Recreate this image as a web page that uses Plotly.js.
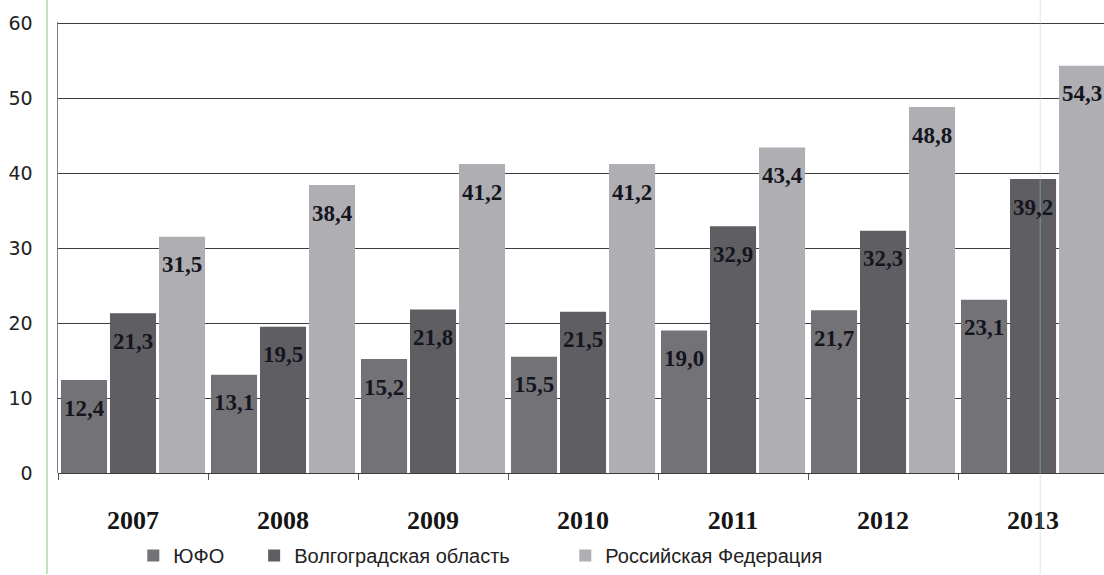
<!DOCTYPE html>
<html>
<head>
<meta charset="utf-8">
<script src="https://cdn.plot.ly/plotly-3.0.1.min.js"></script>
<style>html,body{margin:0;padding:0;background:#fff;}#chart{width:1104px;height:575px;}</style>
</head>
<body>
<div id="chart"></div>
<script>
const years = ['2007','2008','2009','2010','2011','2012','2013'];
const seriesNames = ['ЮФО','Волгоградская область','Российская Федерация'];
const yufo = [12.4, 13.1, 15.2, 15.5, 19.0, 21.7, 23.1];
const volgograd = [21.3, 19.5, 21.8, 21.5, 32.9, 32.3, 39.2];
const russia = [31.5, 38.4, 41.2, 41.2, 43.4, 48.8, 54.3];
const yTicks = [0, 10, 20, 30, 40, 50, 60];

const colors = ['#737377', '#5f5f63', '#afafb3'];
const allSeries = [yufo, volgograd, russia];
const legendIds = ['legend', 'legend2', 'legend3'];
const bargap = 0.02;

const traces = allSeries.map((vals, k) => ({
  type: 'bar',
  name: seriesNames[k],
  x: years,
  y: vals,
  marker: {color: colors[k], line: {width: 0}},
  legend: legendIds[k],
  hoverinfo: 'x+y+name'
}));

const fmt = v => v.toFixed(1).replace('.', ',');
const annotations = [];
allSeries.forEach((vals, k) => {
  const off = (k - 1) * (1 - bargap) / 3;
  vals.forEach((v, i) => {
    annotations.push({
      x: i + off, y: v, xref: 'x', yref: 'y',
      text: '<b>' + fmt(v) + '</b>', showarrow: false, yshift: -28,
      font: {family: 'Liberation Serif, Times New Roman, serif', size: 23, color: '#15151f'},
      xanchor: 'center', yanchor: 'middle'
    });
  });
});

const legendFont = {family: 'Liberation Sans, Arial, sans-serif', size: 20, color: '#222'};
const legBase = {orientation: 'h', y: -0.184, yanchor: 'middle', xanchor: 'left', font: legendFont, bgcolor: 'rgba(0,0,0,0)', borderwidth: 0};

const layout = {
  width: 1104, height: 575,
  margin: {l: 58, r: 0, t: 22, b: 101},
  paper_bgcolor: '#fff', plot_bgcolor: '#fff',
  barmode: 'group', bargap: bargap, bargroupgap: 0.06,
  xaxis: {
    type: 'category', range: [-0.5, 6.473],
    tickson: 'boundaries', ticks: 'outside', ticklen: 6, tickcolor: '#555',
    ticklabelstandoff: 29,
    tickvals: years, ticktext: years.map(y => '<b>' + y + '</b>'),
    tickfont: {family: 'Liberation Serif, Times New Roman, serif', size: 26, color: '#151515'},
    showgrid: false, showline: false, zeroline: false, fixedrange: true
  },
  yaxis: {
    range: [0, 60.15], tickvals: yTicks, ticktext: yTicks.map(String),
    tickfont: {family: 'DejaVu Sans, Verdana, sans-serif', size: 19, color: '#222'},
    ticklabelstandoff: 20,
    showgrid: true, gridcolor: '#3c3c3c', gridwidth: 1,
    zeroline: true, zerolinecolor: '#3c3c3c', zerolinewidth: 1,
    showline: true, linecolor: '#7a7a92', linewidth: 1.5,
    ticks: '', fixedrange: true
  },
  showlegend: true,
  legend: Object.assign({}, legBase, {x: 0.072}),
  legend2: Object.assign({}, legBase, {x: 0.1875}),
  legend3: Object.assign({}, legBase, {x: 0.485}),
  annotations: annotations,
  shapes: [
    {type: 'line', xref: 'paper', yref: 'paper', x0: -0.0105, x1: -0.0105, y0: -0.224, y1: 1.051,
     line: {color: '#a9dca0', width: 1.5}},
    {type: 'line', xref: 'paper', yref: 'paper', x0: 0.939, x1: 0.939, y0: -0.224, y1: 1.051,
     line: {color: 'rgba(150,220,210,0.45)', width: 1}}
  ]
};

Plotly.newPlot('chart', traces, layout, {displayModeBar: false, staticPlot: true});
</script>
</body>
</html>
